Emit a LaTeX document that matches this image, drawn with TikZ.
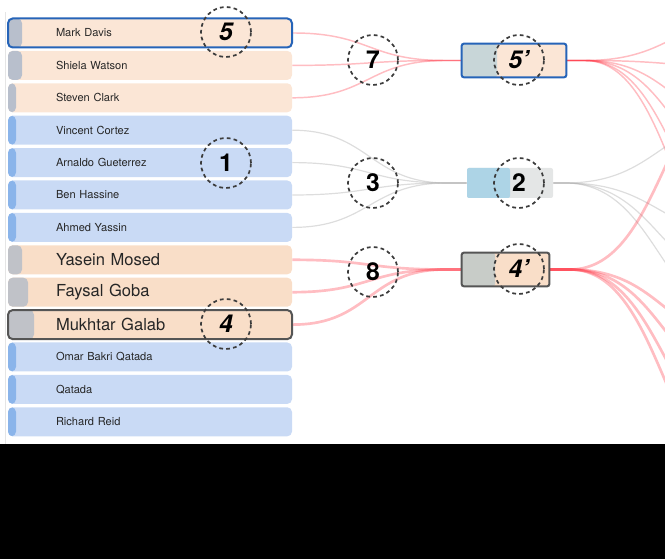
\documentclass[tikz,border=0pt]{standalone}
\usepackage{fontspec}
\setmainfont{TeX Gyre Heros}
\usepackage{tikz}

\definecolor{peach}{RGB}{251,230,214}
\definecolor{peachdark}{RGB}{249,222,200}
\definecolor{rowblue}{RGB}{201,218,245}
\definecolor{barblue}{RGB}{138,180,234}
\definecolor{barslate}{RGB}{184,191,204}
\definecolor{bargray}{RGB}{192,194,200}
\definecolor{boxslate}{RGB}{200,214,216}
\definecolor{boxsky}{RGB}{173,212,230}
\definecolor{boxmist}{RGB}{228,230,230}
\definecolor{boxgray}{RGB}{200,204,200}
\definecolor{linkred}{RGB}{255,55,70}
\definecolor{linkgray}{RGB}{170,170,170}
\definecolor{frameblue}{RGB}{38,100,184}
\definecolor{framegray}{RGB}{85,85,85}
\definecolor{dashgray}{RGB}{60,60,60}

\tikzset{
  row/.style={rounded corners=3.5pt, minimum height=21.75pt, text width=141pt,
    inner xsep=36pt, inner ysep=0pt, align=left, text=black!85,
    font=\fontsize{8.3}{9}\selectfont},
  bigrow/.style={row, font=\fontsize{12.4}{14}\selectfont},
  bar/.style 2 args={path picture={\fill[#1] (path picture bounding box.south west)
    rectangle ([xshift=#2]path picture bounding box.north west);}},
  pair/.style={rounded corners=1.5pt, inner sep=0pt},
  ring/.style={circle, draw=dashgray, dash pattern=on 2.8pt off 2.4pt, line width=1.3pt,
    minimum size=37.5pt, inner sep=0pt, font=\fontsize{18.5}{20}\selectfont\bfseries},
  redlink/.style={draw=linkred, draw opacity=0.33, line width=1.1pt},
  redthick/.style={redlink, line width=2pt},
  graylink/.style={draw=linkgray, draw opacity=0.4, line width=0.9pt}
}

\begin{document}
\begin{tikzpicture}[x=0.75pt,y=0.75pt,yscale=-1,xscale=1]
\useasboundingbox (0,0) rectangle (665,559);
\clip (0,0) rectangle (665,559);

%Straight Lines: left margin
\draw [black!10, line width=0.6pt] (5,12) -- (5,444);

%Shape: Rows
\node [row, fill=peach, bar={barslate}{10.5pt}, draw=frameblue, line width=1.5pt] (md) at (150,33) {Mark Davis};
\node [row, fill=peach, bar={barslate}{10.5pt}] (sw) at (150,65.4) {Shiela Watson};
\node [row, fill=peach, bar={barslate}{6pt}] (sc) at (150,97.8) {Steven Clark};
\node [row, fill=rowblue, bar={barblue}{6pt}] (vc) at (150,130.2) {Vincent Cortez};
\node [row, fill=rowblue, bar={barblue}{6pt}] (ag) at (150,162.6) {Arnaldo Gueterrez};
\node [row, fill=rowblue, bar={barblue}{6pt}] (bh) at (150,195) {Ben Hassine};
\node [row, fill=rowblue, bar={barblue}{6pt}] (ay) at (150,227.4) {Ahmed Yassin};
\node [bigrow, fill=peachdark, bar={bargray}{10.5pt}] (ym) at (150,259.8) {Yasein Mosed};
\node [bigrow, fill=peachdark, bar={bargray}{15pt}] (fg) at (150,292.2) {Faysal Goba};
\node [bigrow, fill=peachdark, bar={bargray}{19.5pt}, draw=framegray, line width=1.5pt] (mg) at (150,324.6) {Mukhtar Galab};
\node [row, fill=rowblue, bar={barblue}{6pt}] (ob) at (150,357) {Omar Bakri Qatada};
\node [row, fill=rowblue, bar={barblue}{6pt}] (qa) at (150,389.4) {Qatada};
\node [row, fill=rowblue, bar={barblue}{6pt}] (rr) at (150,421.8) {Richard Reid};

%Coordinates: joins and far ends
\coordinate (j5) at (445,60.5);
\coordinate (j2) at (447,183);
\coordinate (j4) at (445,269.5);
\coordinate (k5) at (585,60.5);
\coordinate (k2) at (565,183);
\coordinate (k4) at (570,269.5);
\coordinate (t5a) at (765,15);
\coordinate (t5b) at (765,68);
\coordinate (t5c) at (765,130);
\coordinate (t5d) at (765,181);
\coordinate (t5e) at (765,242);
\coordinate (t5f) at (765,287);
\coordinate (t2a) at (755,118);
\coordinate (t2b) at (755,237);
\coordinate (t2c) at (755,286);
\coordinate (t2d) at (755,326);
\coordinate (t4a) at (760,65);
\coordinate (t4b) at (760,345);
\coordinate (t4c) at (760,391);
\coordinate (t4d) at (760,445);
\coordinate (t4e) at (760,491);

%Shape: Pair boxes
\node [pair, minimum width=78pt, minimum height=24.75pt, fill=peach, bar={boxslate}{26.25pt}] (b5) at (514,60.5) {};
\node [pair, minimum width=64.5pt, minimum height=22.5pt, fill=boxmist, bar={boxsky}{32.25pt}] (b2) at (510,183) {};
\node [pair, minimum width=65.25pt, minimum height=24.75pt, fill=peachdark, bar={boxgray}{24.75pt}] (b4) at (505.5,269.5) {};

%Curves: rows to pair boxes
\draw [redlink] (md.east) .. controls +(77,0) and +(-77,0) .. (j5) -- (b5.west);
\draw [redlink] (sw.east) .. controls +(77,0) and +(-77,0) .. (j5) -- (b5.west);
\draw [redlink] (sc.east) .. controls +(77,0) and +(-77,0) .. (j5) -- (b5.west);
\draw [graylink] (vc.east) .. controls +(77,0) and +(-77,0) .. (j2) -- (b2.west);
\draw [graylink] (ag.east) .. controls +(77,0) and +(-77,0) .. (j2) -- (b2.west);
\draw [graylink] (bh.east) .. controls +(77,0) and +(-77,0) .. (j2) -- (b2.west);
\draw [graylink] (ay.east) .. controls +(77,0) and +(-77,0) .. (j2) -- (b2.west);
\draw [redthick] (ym.east) .. controls +(77,0) and +(-77,0) .. (j4) -- (b4.west);
\draw [redthick] (fg.east) .. controls +(77,0) and +(-77,0) .. (j4) -- (b4.west);
\draw [redthick] (mg.east) .. controls +(77,0) and +(-77,0) .. (j4) -- (b4.west);

%Curves: pair boxes to the right
\draw [redlink] (b5.east) -- (k5) .. controls +(90,0) and +(-90,0) .. (t5a);
\draw [redlink] (b5.east) -- (k5) .. controls +(90,0) and +(-90,0) .. (t5b);
\draw [redlink] (b5.east) -- (k5) .. controls +(90,0) and +(-90,0) .. (t5c);
\draw [redlink] (b5.east) -- (k5) .. controls +(90,0) and +(-90,0) .. (t5d);
\draw [redlink] (b5.east) -- (k5) .. controls +(90,0) and +(-90,0) .. (t5e);
\draw [redlink] (b5.east) -- (k5) .. controls +(90,0) and +(-90,0) .. (t5f);
\draw [graylink] (b2.east) -- (k2) .. controls +(95,0) and +(-95,0) .. (t2a);
\draw [graylink] (b2.east) -- (k2) .. controls +(95,0) and +(-95,0) .. (t2b);
\draw [graylink] (b2.east) -- (k2) .. controls +(95,0) and +(-95,0) .. (t2c);
\draw [graylink] (b2.east) -- (k2) .. controls +(95,0) and +(-95,0) .. (t2d);
\draw [redthick] (b4.east) -- (k4) .. controls +(95,0) and +(-95,0) .. (t4a);
\draw [redthick] (b4.east) -- (k4) .. controls +(95,0) and +(-95,0) .. (t4b);
\draw [redthick] (b4.east) -- (k4) .. controls +(95,0) and +(-95,0) .. (t4c);
\draw [redthick] (b4.east) -- (k4) .. controls +(95,0) and +(-95,0) .. (t4d);
\draw [redthick] (b4.east) -- (k4) .. controls +(95,0) and +(-95,0) .. (t4e);

%Shape: Box frames
\draw [frameblue, line width=1.5pt, rounded corners=1.5pt] (b5.south west) rectangle (b5.north east);
\draw [framegray, line width=1.5pt, rounded corners=1.5pt] (b4.south west) rectangle (b4.north east);

%Shape: Dashed circles
\node [ring] (c5) at (226,32) {\itshape 5};
\node [ring] (c1) at (226,163) {1};
\node [ring] (c4) at (226,324) {\itshape 4};
\node [ring] (c7) at (373,60) {7};
\node [ring] (c3) at (373,183) {3};
\node [ring] (c8) at (373,272) {8};
\node [ring] (c5p) at (519,60) {\itshape 5'};
\node [ring] (c2) at (519,183) {2};
\node [ring] (c4p) at (519,269) {\itshape 4'};

%Shape: Bottom band
\fill [black] (0,444) rectangle (665,559);

\end{tikzpicture}
\end{document}
